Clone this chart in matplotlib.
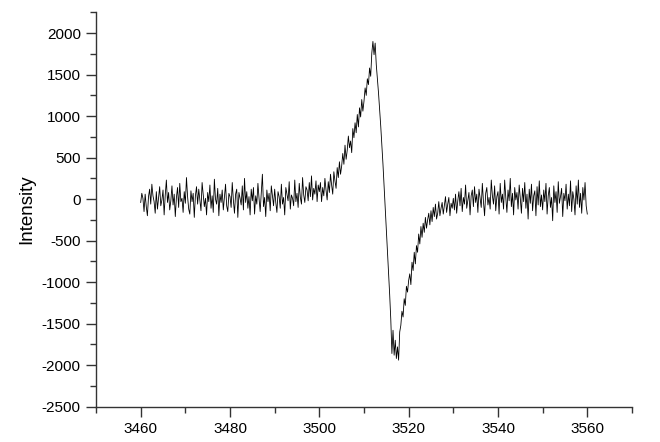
import numpy as np
import matplotlib.pyplot as plt
from matplotlib.ticker import MultipleLocator

plt.rcParams['font.family'] = ['Liberation Sans', 'DejaVu Sans']
plt.rcParams['axes.unicode_minus'] = False

# magnetic field grid (G), 0.25 G steps
field = np.linspace(3460, 3560, 401)

# intensity, 20 points per 5 G row
intensity = [
    -40, 70, 10, -150, 60, -90, -200, 30, 120, -60, 180, 40, -30, -170, 90, -120, 20, 150, -80, -10,
    110, -190, 50, 230, -40, 80, -130, -20, 160, -70, 60, -210, 20, 140, -100, 190, -30, 10, -160, 90,
    -50, 260, 30, -120, -180, 100, -30, 70, -220, 40, 150, -60, 120, -10, -140, 200, 50, -90, 10, -190,
    80, -30, 170, -110, 40, -160, 240, 0, -60, 130, -200, 60, -40, 110, -130, 20, 180, -80, -150, 70,
    30, -100, 200, -10, -170, 60, 120, -220, 80, 10, -70, 160, -130, 250, -40, 90, -110, 30, -190, 120,
    -20, 140, -180, 40, -60, 190, 10, -150, 80, 300, -90, 20, -210, 110, -30, 70, -140, 160, 40, -80,
    120, -40, -160, 90, 30, -110, 180, -60, 20, -190, 140, 60, -20, 210, -120, 50, 10, -80, 230, -30,
    70, -100, 190, 20, -60, 260, 50, -40, 150, 110, -20, 200, 30, 280, -10, 130, 60, 220, -30, 170,
    90, 200, -30, 140, 40, 250, 110, -10, 210, 80, 300, 170, 60, 330, 220, 130, 380, 260, 450, 300,
    400, 550, 420, 650, 480, 590, 760, 620, 700, 560, 850, 740, 920, 800, 1020, 870, 1100, 990, 1200, 1060,
    1180, 1340, 1250, 1450, 1380, 1580, 1480, 1760, 1900, 1740, 1880, 1620, 1450, 1280, 1080, 880, 660, 420, 160, -120,
    -380, -640, -900, -1150, -1450, -1860, -1580, -1880, -1700, -1920, -1780, -1940, -1600, -1520, -1350, -1420, -1200, -1280, -1050, -1120,
    -980, -900, -1030, -760, -860, -640, -780, -560, -640, -420, -540, -330, -460, -290, -400, -220, -350, -250, -170, -310,
    -140, -270, -100, -210, -60, -240, -170, -30, -200, -110, -40, -180, -80, 30, -160, -60, 20, -200, -50, -110,
    10, -130, 60, -170, -20, 90, -80, 130, -150, 20, -60, 170, -110, -10, 80, -190, 40, 110, -90, 150,
    -40, 60, -160, 120, 10, -100, 190, -30, -200, 70, 140, -70, 20, -120, 230, 40, -60, 160, -140, 30,
    90, -180, 190, -40, 60, -120, 230, 20, -160, 110, -20, 250, -90, 70, -190, 140, -10, 80, -120, 170,
    10, -170, 130, -30, 200, -110, 60, -240, 120, -50, 180, -140, 40, 100, -200, 150, -70, 220, -90, 50,
    -130, 110, -30, 190, -180, 40, 140, -100, 20, -260, 160, -40, 90, -160, 210, -50, 30, 130, -210, 70,
    -20, 180, -120, 60, -80, 220, -150, 90, 0, -190, 160, -60, 230, -100, 70, -170, 140, -10, 200, -80,
    -180,
]

fig = plt.figure(figsize=(6.6, 4.42), dpi=100)
ax = fig.add_axes([0.1455, 0.08, 0.812, 0.892])

ax.plot(field, intensity, color='black', lw=0.6)

ax.set_xlim(3450, 3570)
ax.set_ylim(-2500, 2250)
ax.xaxis.set_minor_locator(MultipleLocator(10))
ax.yaxis.set_major_locator(MultipleLocator(500))
ax.yaxis.set_minor_locator(MultipleLocator(250))
ax.set_xticks(np.arange(3460, 3561, 20))

for side in ['top', 'right']:
    ax.spines[side].set_visible(False)
for side in ['left', 'bottom']:
    ax.spines[side].set_linewidth(1.0)
    ax.spines[side].set_color('#333333')

ax.tick_params(which='major', direction='out', length=7, width=1.0,
               color='#333333', labelsize=11, pad=4)
ax.tick_params(which='minor', direction='out', length=4, width=1.0,
               color='#333333')

ax.set_ylabel('Intensity', fontsize=13.5, labelpad=5)

fig.savefig('out.png', dpi=100)
